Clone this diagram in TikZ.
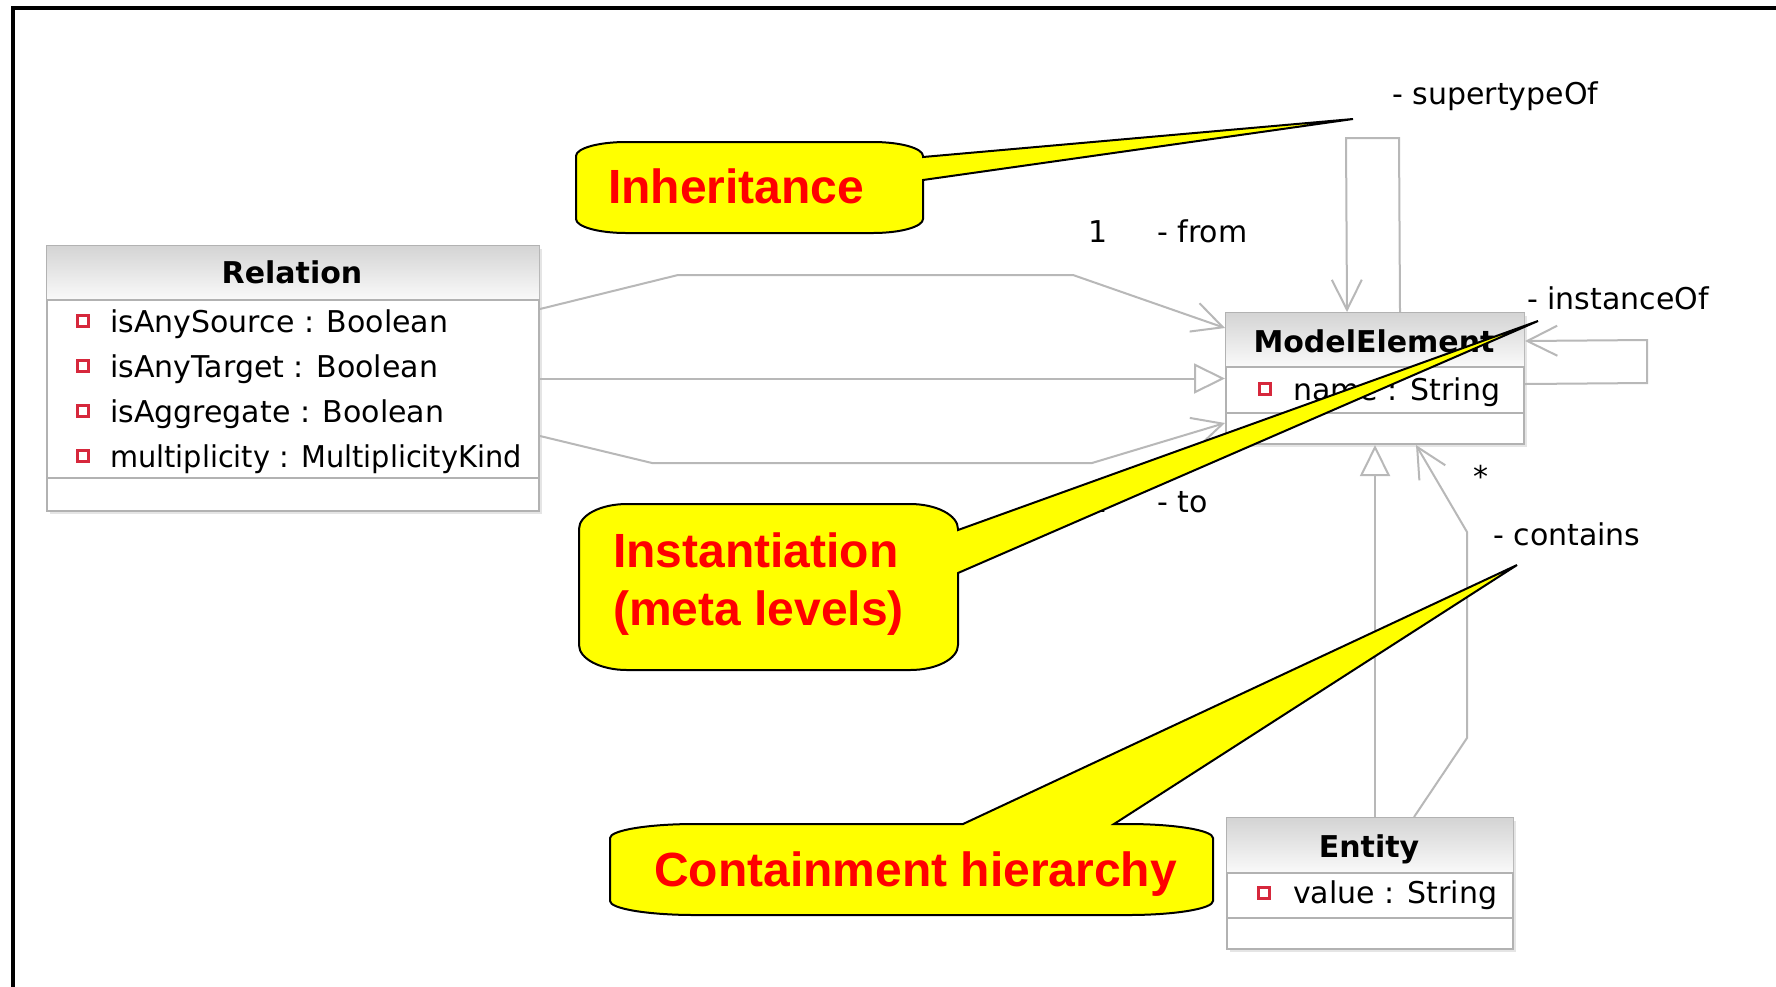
\documentclass[tikz,border=0pt]{standalone}
\usepackage{fontspec}
\usetikzlibrary{arrows.meta,shadows}
\newfontfamily\umlfont{DejaVu Sans}
\newfontfamily\umlnarrow[FakeStretch=0.96]{DejaVu Sans}
\newfontfamily\notefont{Liberation Sans}
\definecolor{umlline}{RGB}{184,184,184}
\definecolor{umlborder}{RGB}{178,178,178}
\definecolor{hdrtop}{RGB}{212,212,212}
\definecolor{hdrbot}{RGB}{250,250,250}
\definecolor{attrred}{RGB}{214,40,60}
\definecolor{noteyellow}{RGB}{255,255,0}
\definecolor{notered}{RGB}{255,0,0}
\tikzset{
  classbox/.style={draw=umlborder, line width=2pt, fill=white, anchor=north west,
    inner sep=0pt, drop shadow={shadow xshift=3pt, shadow yshift=-3pt, opacity=0.2}},
  classname/.style={font=\umlfont\bfseries\fontsize{30}{36}\selectfont, anchor=base,
    inner sep=0pt, text=black},
  attr/.style={font=\umlfont\fontsize{30}{36}\selectfont, anchor=base west,
    inner sep=0pt, text=black},
  attricon/.style={draw=attrred, line width=2.5pt, fill=white, minimum size=11pt,
    inner sep=0pt},
  rolelabel/.style={font=\umlfont\fontsize{30}{36}\selectfont, anchor=base west,
    inner sep=0pt, text=black},
  divider/.style={draw=umlborder, line width=2pt},
  assoc/.style={draw=umlline, line width=2pt, -{Straight Barb[length=30pt,width=30pt]}},
  generalization/.style={draw=umlline, line width=2pt,
    -{Triangle[open,length=31pt,width=30pt,fill=white]}},
  callout/.style={fill=noteyellow, draw=black, line width=2pt, line join=miter},
  notetext/.style={font=\notefont\bfseries\fontsize{48}{62}\selectfont, text=notered,
    anchor=base west, inner sep=0pt},
}
\begin{document}
\begin{tikzpicture}[x=1pt,y=-1pt]
\useasboundingbox (0,0) rectangle (1776,986);
\clip (0,0) rectangle (1776,986);
\fill[white] (0,0) rectangle (1776,986);

% outer frame (only its top and left edges fall inside the page)
\draw[line width=4pt] (12.5,1000) -- (12.5,8) -- (1800,8);

% ---------- class Relation ----------
\node[classbox, minimum width=492pt, minimum height=265pt] (rel) at (46,245) {};
\shade[top color=hdrtop, bottom color=hdrbot]
  ([shift={(1pt,-1pt)}]rel.north west) rectangle ([shift={(-1pt,-55pt)}]rel.north east);
\draw[divider] ([yshift=-55pt]rel.north west) -- ([yshift=-55pt]rel.north east);
\draw[divider] ([yshift=-233pt]rel.north west) -- ([yshift=-233pt]rel.north east);
\node[classname] (relName) at (292,283) {Relation};
\node[attricon] (relI1) at (83,321) {};
\node[attricon] (relI2) at (83,366) {};
\node[attricon] (relI3) at (83,411) {};
\node[attricon] (relI4) at (83,456) {};
\node[attr] (relA1) at (110,332) {isAnySource : Boolean};
\node[attr] (relA2) at (110,377) {isAnyTarget : Boolean};
\node[attr] (relA3) at (110,422) {isAggregate : Boolean};
\node[attr, font=\umlnarrow\fontsize{30}{36}\selectfont] (relA4) at (110,467) {multiplicity : MultiplicityKind};

% ---------- class ModelElement ----------
\node[classbox, minimum width=298pt, minimum height=131pt] (me) at (1225,312) {};
\shade[top color=hdrtop, bottom color=hdrbot]
  ([shift={(1pt,-1pt)}]me.north west) rectangle ([shift={(-1pt,-55pt)}]me.north east);
\draw[divider] ([yshift=-55pt]me.north west) -- ([yshift=-55pt]me.north east);
\draw[divider] ([yshift=-101pt]me.north west) -- ([yshift=-101pt]me.north east);
\node[classname] (meName) at (1374,352) {ModelElement};
\node[attricon] (meI1) at (1265,389) {};
\node[attr] (meA1) at (1293,400) {name : String};

% ---------- class Entity ----------
\node[classbox, minimum width=286pt, minimum height=131pt] (ent) at (1226,817) {};
\shade[top color=hdrtop, bottom color=hdrbot]
  ([shift={(1pt,-1pt)}]ent.north west) rectangle ([shift={(-1pt,-56pt)}]ent.north east);
\draw[divider] ([yshift=-56pt]ent.north west) -- ([yshift=-56pt]ent.north east);
\draw[divider] ([yshift=-101pt]ent.north west) -- ([yshift=-101pt]ent.north east);
\node[classname] (entName) at (1369,857) {Entity};
\node[attricon] (entI1) at (1264,893) {};
\node[attr] (entA1) at (1293,903) {value : String};

% ---------- connectors ----------
% Relation --from--> ModelElement
\draw[assoc] ([yshift=69.5pt]rel.east) -- (678,275) -- (1073,275) -- ([yshift=50.5pt]me.west);
% Relation specialises ModelElement
\draw[generalization] (rel.east) -- (me.west);
% Relation --to--> ModelElement
\draw[assoc] ([yshift=-57.5pt]rel.east) -- (652,463) -- (1092,463) -- ([yshift=-44.5pt]me.west);
% supertypeOf self-association
\draw[assoc] ([xshift=25pt]me.north) -- (1399,138) -- (1346,138) -- ([xshift=-28pt]me.north);
% instanceOf self-association
\draw[assoc] ([yshift=-5.5pt]me.east) -- (1647,383) -- (1647,340) -- ([yshift=37.5pt]me.east);
% Entity specialises ModelElement
\draw[generalization] (ent.north -| me.south) -- (me.south);
% Entity --contains--> ModelElement
\draw[assoc] ([xshift=44pt]ent.north) -- (1467,738) -- (1467,532) -- ([xshift=41pt]me.south);

% role names and multiplicities
\node[rolelabel] (supLbl) at (1392,104) {- supertypeOf};
\node[rolelabel, anchor=base] (fromMult) at (1098,242) {1};
\node[rolelabel] (fromLbl) at (1157,242) {- from};
\node[rolelabel] (instLbl) at (1527,309) {- instanceOf};
\node[rolelabel, anchor=base] (toMult) at (1098,512) {1};
\node[rolelabel] (toLbl) at (1157,512) {- to};
\node[rolelabel, anchor=base] (contMult) at (1481,487) {*};
\node[rolelabel] (contLbl) at (1493,545) {- contains};

% ---------- callouts ----------
\path[callout] (626,142) -- (873,142)
  .. controls (900.6,142) and (923,148.3) .. (923,156) -- (923,157)
  -- (1353,119) -- (923,180) -- (923,219)
  .. controls (923,226.7) and (900.6,233) .. (873,233) -- (626,233)
  .. controls (598.4,233) and (576,226.7) .. (576,219) -- (576,156)
  .. controls (576,148.3) and (598.4,142) .. (626,142) -- cycle;
\node[notetext] (inhText) at (608,203) {Inheritance};

\path[callout] (627,504) -- (910,504)
  .. controls (936.5,504) and (958,515.2) .. (958,529) -- (958,530)
  -- (1538,321) -- (958,573) -- (958,645)
  .. controls (958,658.8) and (936.5,670) .. (910,670) -- (627,670)
  .. controls (600.5,670) and (579,658.8) .. (579,645) -- (579,529)
  .. controls (579,515.2) and (600.5,504) .. (627,504) -- cycle;
\node[notetext] (instText1) at (613,567) {Instantiation};
\node[notetext] (instText2) at (613,625) {(meta levels)};

\path[callout] (695,824) -- (963,824) -- (1517,565) -- (1114,824) -- (1128,824)
  .. controls (1175,824) and (1213,830.3) .. (1213,838) -- (1213,901)
  .. controls (1213,908.7) and (1175,915) .. (1128,915) -- (695,915)
  .. controls (648,915) and (610,908.7) .. (610,901) -- (610,838)
  .. controls (610,830.3) and (648,824) .. (695,824) -- cycle;
\node[notetext] (contText) at (654,886) {Containment hierarchy};
\end{tikzpicture}
\end{document}
